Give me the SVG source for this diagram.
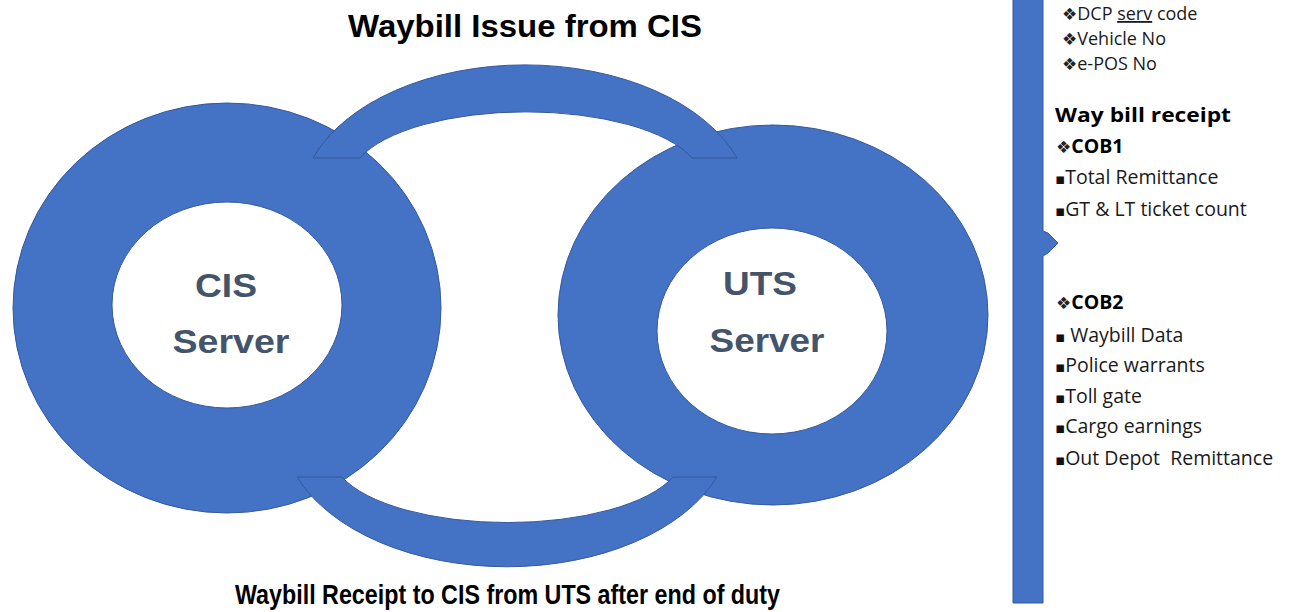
<svg xmlns="http://www.w3.org/2000/svg" width="1301" height="612" viewBox="0 0 1301 612">
<style>
.shape{fill:#4472C4;stroke:#34599E;stroke-width:1}
.srv{font-family:"Liberation Sans",Arial,sans-serif;font-weight:bold;font-size:33px;fill:#44546A;text-anchor:middle}
.title{font-family:"Liberation Sans",Arial,sans-serif;font-weight:bold;fill:#000}
.lst{font-family:"Open Sans","Liberation Sans",sans-serif;font-size:19.5px;fill:#1a1a1a;white-space:pre}
.top{font-size:18px}
.lstb{font-family:"Open Sans","Liberation Sans",sans-serif;font-size:19.5px;font-weight:bold;fill:#000}
.dia{font-family:"DejaVu Sans",sans-serif;font-size:17px;font-weight:normal;fill:#222}
.sq{font-family:"DejaVu Sans",sans-serif;font-size:15px;fill:#111}
</style>
<rect width="1301" height="612" fill="#ffffff"/>
<g id="cis-node">
<path class="shape" fill-rule="evenodd" d="M13,308 A214,205 0 1 0 441,308 A214,205 0 1 0 13,308 Z M112,305 A115,103 0 1 1 342,305 A115,103 0 1 1 112,305 Z"/>
<text class="srv" x="226" y="297" textLength="62" lengthAdjust="spacingAndGlyphs">CIS</text>
<text class="srv" x="231" y="353" textLength="117" lengthAdjust="spacingAndGlyphs">Server</text>
</g>
<g id="uts-node">
<path class="shape" fill-rule="evenodd" d="M558,315 A215,190 0 1 0 988,315 A215,190 0 1 0 558,315 Z M657,331 A115,103 0 1 1 887,331 A115,103 0 1 1 657,331 Z"/>
<text class="srv" x="760" y="295" textLength="74" lengthAdjust="spacingAndGlyphs">UTS</text>
<text class="srv" x="767" y="352" textLength="115" lengthAdjust="spacingAndGlyphs">Server</text>
</g>
<g id="connectors">
<path id="issue-arc" class="shape" d="M313,158 A225,140 0 0 1 737,158 L692,158 A175,67.5 0 0 0 360,158 Z"/>
<path id="receipt-arc" class="shape" d="M297,477 A225,140 0 0 0 717,477 L673,477 A175,67.5 0 0 1 342,477 Z"/>
</g>
<g id="title-issue">
<text class="title" x="348" y="37" font-size="31" textLength="354" lengthAdjust="spacingAndGlyphs">Waybill Issue from CIS</text>
</g>
<g id="title-receipt">
<text class="title" x="235" y="604" font-size="28" textLength="545" lengthAdjust="spacingAndGlyphs">Waybill Receipt to CIS from UTS after end of duty</text>
</g>
<g id="info-panel">
<path class="shape" d="M1013,-2 L1043,-2 L1043,231 L1048,233 L1058,243 L1048,253 L1043,256 L1043,603 L1013,603 Z"/>
<text class="lst top" x="1062" y="20"><tspan class="dia">❖</tspan>DCP <tspan text-decoration="underline" text-decoration-color="#c00">serv</tspan> code</text>
<text class="lst top" x="1062" y="45"><tspan class="dia">❖</tspan>Vehicle No</text>
<text class="lst top" x="1062" y="70"><tspan class="dia">❖</tspan>e-POS No</text>
<text class="lstb" x="1055" y="122" textLength="176" lengthAdjust="spacingAndGlyphs">Way bill receipt</text>
<text class="lstb" x="1056" y="153"><tspan class="dia">❖</tspan>COB1</text>
<text class="lst" x="1055" y="184"><tspan class="sq">▪</tspan>Total Remittance</text>
<text class="lst" x="1055" y="216"><tspan class="sq">▪</tspan>GT &amp; LT ticket count</text>
<text class="lstb" x="1056" y="309"><tspan class="dia">❖</tspan>COB2</text>
<text class="lst" x="1055" y="342"><tspan class="sq">▪</tspan> Waybill Data</text>
<text class="lst" x="1055" y="372"><tspan class="sq">▪</tspan>Police warrants</text>
<text class="lst" x="1055" y="403"><tspan class="sq">▪</tspan>Toll gate</text>
<text class="lst" x="1055" y="433"><tspan class="sq">▪</tspan>Cargo earnings</text>
<text class="lst" x="1055" y="465"><tspan class="sq">▪</tspan>Out Depot  Remittance</text>
</g>
</svg>
